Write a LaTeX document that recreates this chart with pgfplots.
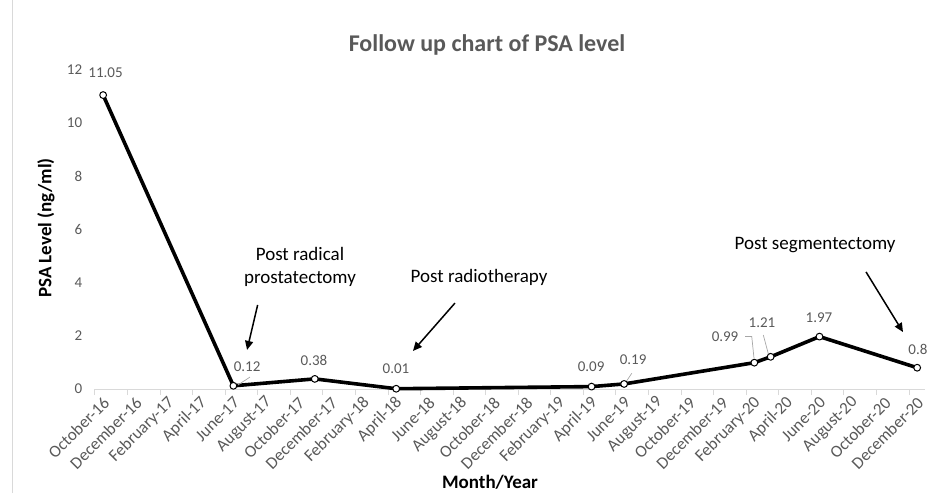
\documentclass[border=0pt]{standalone}
\usepackage{fontspec}
\setmainfont{Carlito}
\usepackage{pgfplots}
\pgfplotsset{compat=1.18}
\usetikzlibrary{arrows.meta}
\definecolor{tgray}{HTML}{595959}
\definecolor{agray}{HTML}{D9D9D9}
\definecolor{lgray}{HTML}{A6A6A6}
\begin{document}
\begin{tikzpicture}[x=1pt,y=1pt]
\path[use as bounding box] (0,0) rectangle (927,493);
\draw[agray, line width=0.8pt] (12,0) -- (12,493);
\node[font=\bfseries\fontsize{24}{28}\selectfont, text=tgray] at (487,448) {Follow up chart of PSA level};
\node[font=\bfseries\fontsize{19}{22}\selectfont, rotate=90] at (46,265) {PSA Level (ng/ml)};
\node[font=\bfseries\fontsize{19}{22}\selectfont] at (490,11) {Month/Year};
\begin{axis}[
  at={(95pt,104pt)}, anchor=south west, scale only axis,
  width=830.3pt, height=319.2pt,
  xmin=-0.5, xmax=50.5, ymin=0, ymax=12,
  clip=false,
  axis x line*=bottom, axis y line*=left,
  y axis line style={draw=none},
  x axis line style={agray, line width=1pt},
  ytick={0,2,...,12},
  ytick style={draw=none},
  yticklabel style={text=tgray, font=\fontsize{15}{18}\selectfont, xshift=-5pt},
  xtick={0,2,...,50},
  xticklabels={October-16, December-16, February-17, April-17, June-17, August-17, October-17, December-17, February-18, April-18, June-18, August-18, October-18, December-18, February-19, April-19, June-19, August-19, October-19, December-19, February-20, April-20, June-20, August-20, October-20, December-20},
  major x tick style={draw=none},
  minor xtick={-0.5,1.5,...,49.5},
  minor x tick style={agray, line width=1pt},
  minor tick length=6pt,
  tick align=outside,
  xticklabel style={rotate=45, anchor=east, text=tgray, font=\fontsize{17}{19}\selectfont, yshift=-7pt, xshift=1pt},
  /pgf/number format/assume math mode=true,
]
\addplot[black, line width=3.6pt, line join=round, mark=*, mark size=3.4pt,
  mark options={fill=white, draw=black, line width=1pt}]
  coordinates {(0,11.05)(8,0.12)(13,0.38)(18,0.01)(30,0.09)(32,0.19)(40,0.99)(41,1.21)(44,1.97)(50,0.8)};
\begin{scope}[every node/.style={text=tgray, font=\fontsize{15}{18}\selectfont}]
\node at (axis cs:0.15,11.88) {11.05};
\node at (axis cs:8.84,0.83) {0.12};
\node at (axis cs:12.95,1.09) {0.38};
\node at (axis cs:17.99,0.75) {0.01};
\node at (axis cs:29.97,0.83) {0.09};
\node at (axis cs:32.55,1.09) {0.19};
\node at (axis cs:38.2,1.95) {0.99};
\node at (axis cs:40.47,2.48) {1.21};
\node at (axis cs:43.97,2.67) {1.97};
\node at (axis cs:50.05,1.5) {0.8};
\end{scope}
\draw[lgray, line width=0.7pt] (axis cs:9.02,0.45) -- (axis cs:8.28,0.15);
\draw[lgray, line width=0.7pt] (axis cs:32.47,0.59) -- (axis cs:32.12,0.27);
\draw[lgray, line width=0.7pt] (axis cs:39.43,1.97) -- (axis cs:39.84,1.97) -- (axis cs:39.98,1.15);
\draw[lgray, line width=0.7pt] (axis cs:40.55,2.03) -- (axis cs:40.86,1.32);
\begin{scope}[every node/.style={font=\fontsize{19}{23}\selectfont, align=center}]
\node at (axis cs:12.09,4.6) {Post radical\\prostatectomy};
\node at (axis cs:23.09,4.21) {Post radiotherapy};
\node at (axis cs:43.73,5.41) {Post segmentectomy};
\end{scope}
\begin{scope}[black, line width=1.5pt, -{Triangle[length=9pt,width=8pt]}]
\draw (axis cs:9.49,3.16) -- (axis cs:8.84,1.47);
\draw (axis cs:21.61,3.23) -- (axis cs:19.03,1.43);
\draw (axis cs:46.86,4.40) -- (axis cs:49.13,2.14);
\end{scope}
\end{axis}
\end{tikzpicture}
\end{document}
